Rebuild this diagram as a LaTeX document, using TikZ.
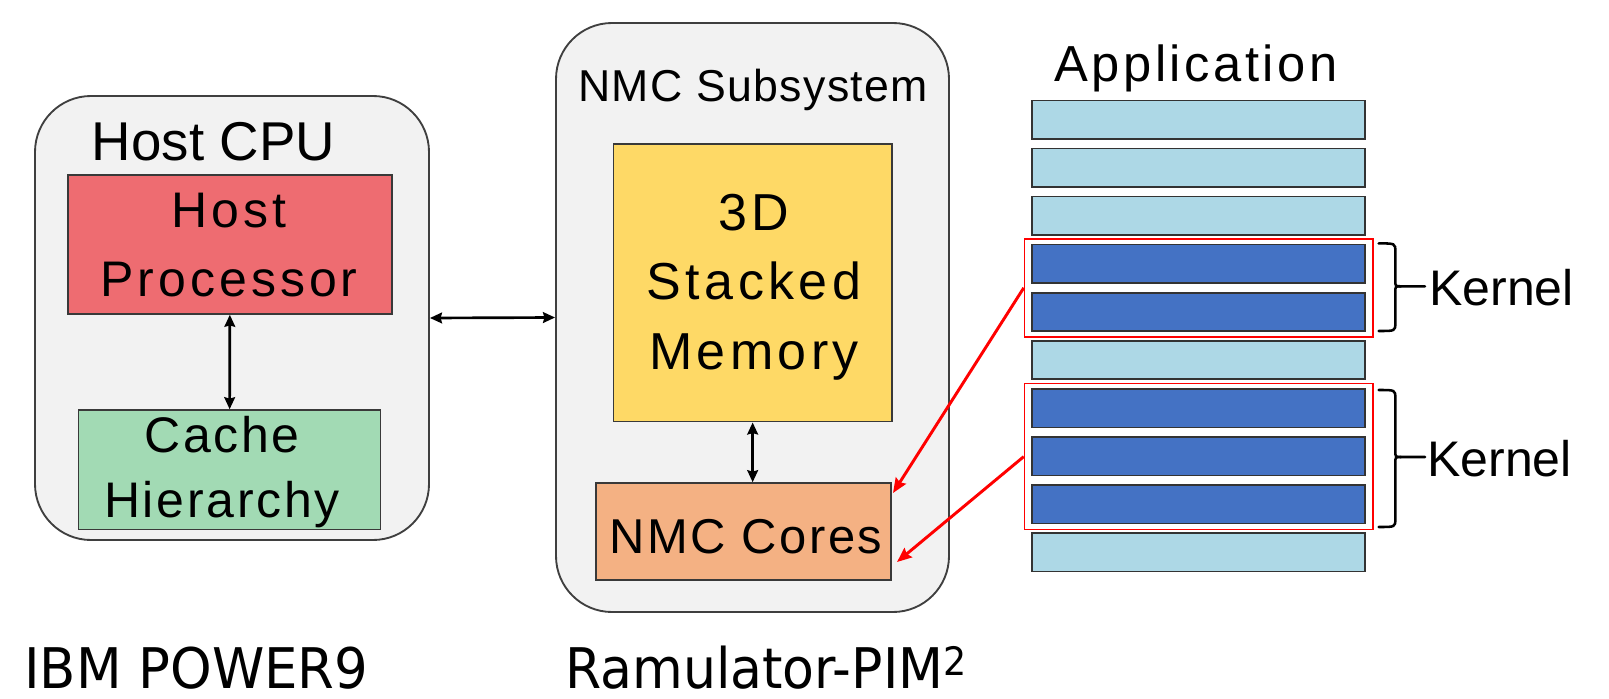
\documentclass[tikz,border=0pt]{standalone}
\usepackage{fontspec}
\usepackage{graphicx}
\setmainfont{Liberation Sans}
\newfontfamily\lsA{Liberation Sans}
\newfontfamily\lsB[LetterSpace=8]{Liberation Sans}
\newfontfamily\lsC[LetterSpace=5.5]{Liberation Sans}
\newfontfamily\lsD[LetterSpace=8.5]{Liberation Sans}
\newfontfamily\lsE[LetterSpace=5]{Liberation Sans}
\newfontfamily\lsF[LetterSpace=7]{Liberation Sans}
\newfontfamily\lsG[LetterSpace=3]{Liberation Sans}
\newfontfamily\capfont{DejaVu Sans}
\usetikzlibrary{fit,arrows.meta}

\definecolor{panelfill}{HTML}{F2F2F2}
\definecolor{panelline}{HTML}{3F3F3F}
\definecolor{hostred}{HTML}{EE6C71}
\definecolor{cachegreen}{HTML}{A2DAB4}
\definecolor{memyellow}{HTML}{FED966}
\definecolor{coreorange}{HTML}{F4B183}
\definecolor{barlight}{HTML}{ADD8E6}
\definecolor{bardark}{HTML}{4472C4}

\tikzset{
  panel/.style={draw=panelline, fill=panelfill, line width=1.4pt, rounded corners=42pt, inner sep=0pt},
  unitbox/.style={draw=panelline!90!black, line width=1.1pt, inner sep=0pt},
  boxline/.style={anchor=base, inner sep=0pt},
  bar/.style={draw=black!80, line width=1.2pt, inner sep=0pt},
  kernelbox/.style={draw=red, line width=1.1pt, inner sep=0pt},
  link/.style={line width=2pt, {Stealth[length=9pt,width=8pt,inset=1pt]}-{Stealth[length=9pt,width=8pt,inset=1pt]}},
  offload/.style={draw=red, line width=2.2pt, -{Stealth[length=11pt,width=9pt,inset=1.5pt]}},
  brace/.style={line width=1.9pt, line cap=round},
  caption/.style={anchor=base west, inner sep=0pt, font=\capfont\fontsize{42pt}{50pt}\selectfont},
  hpfont/.style={font=\lsB\fontsize{37.5pt}{45pt}\selectfont},
  cachefont/.style={font=\lsC\fontsize{37.5pt}{45pt}\selectfont},
  memfont/.style={font=\lsD\fontsize{39pt}{47pt}\selectfont},
  corefont/.style={font=\lsE\fontsize{36.7pt}{44pt}\selectfont},
}

\begin{document}
\begin{tikzpicture}[x=0.75pt, y=-0.75pt]
  \fill[white] (0,0) rectangle (1609,699);
  \useasboundingbox (0,0) rectangle (1609,699);

  % Host CPU panel
  \node (cpu) [panel, fit={(35,96) (429,540)}] {};
  \node (cputitle) [boxline, font=\lsA\fontsize{41pt}{48pt}\selectfont] at (213.5,160) {Host CPU};

  \node (hp) [unitbox, fill=hostred, fit={(68,175) (392,314)}] {};
  \node (hp1) [boxline, hpfont] at (229,227.3) {Host};
  \node (hp2) [boxline, hpfont] at (229,296.7) {Processor};

  \node (cache) [unitbox, fill=cachegreen, fit={(78.3,410) (380.7,529.3)}] {};
  \node (ca1) [boxline, cachefont] at (222,452.3) {Cache};
  \node (ca2) [boxline, cachefont] at (222,517.3) {Hierarchy};

  \draw[link] (hp) -- (cache);

  % NMC subsystem panel
  \node (nmc) [panel, fit={(556,23) (949,612)}] {};
  \node (nmctitle) [boxline, font=\lsG\fontsize{33.5pt}{40pt}\selectfont] at (753,101) {NMC Subsystem};

  \node (mem) [unitbox, fill=memyellow, fit={(613.3,144) (892,421.7)}] {};
  \node (me1) [boxline, memfont] at (754,230) {3D};
  \node (me2) [boxline, memfont] at (754,299.3) {Stacked};
  \node (me3) [boxline, memfont] at (754,369.3) {Memory};

  \node (cores) [unitbox, fill=coreorange, fit={(596,483) (891,580)}] {};
  \node (co1) [boxline, corefont] at (746,553) {NMC Cores};

  \draw[link] (mem.south) -- (mem.south |- cores.north);
  \draw[link] (cpu.east) -- (nmc.west);

  % Application with its kernels
  \node (apptitle) [boxline, font=\lsF\fontsize{38pt}{45pt}\selectfont] at (1196,81) {Application};
  \foreach \i/\c in {1/barlight,2/barlight,3/barlight,4/bardark,5/bardark,
                     6/barlight,7/bardark,8/bardark,9/bardark,10/barlight}{
    \node (b\i) [bar, fill=\c, fit={(1032,{100.3+48.1*(\i-1)}) (1365,{138.7+48.1*(\i-1)})}] {};
  }
  \node (k1) [kernelbox, fit={(1024.5,238.8) (1372.8,336.8)}] {};
  \node (k2) [kernelbox, fit={(1024.5,383.5) (1372.8,529.7)}] {};

  % braces naming the kernels
  \foreach \t/\m/\b in {243.4/286.3/331, 390/457/527}{
    \draw[brace] (1378.6,\t) .. controls (1395.3,\t) .. (1395.3,\t+8)
      -- (1395.3,\m-6) .. controls (1395.3,\m) .. (1401,\m) -- (1425,\m);
    \draw[brace] (1401,\m) .. controls (1395.3,\m) .. (1395.3,\m+6)
      -- (1395.3,\b-8) .. controls (1395.3,\b) .. (1378.6,\b);
  }
  \node (kl1) [anchor=base west, inner sep=0pt, font=\lsA\fontsize{37.5pt}{45pt}\selectfont] at (1429,305) {Kernel};
  \node (kl2) [anchor=base west, inner sep=0pt, font=\lsA\fontsize{37.5pt}{45pt}\selectfont] at (1427,476.5) {Kernel};

  % kernels offloaded to the NMC cores
  \coordinate (in1) at (893,493);
  \coordinate (in2) at (897,562);
  \draw[offload] (k1.west) -- (in1);
  \draw[offload] (k2.west) -- (in2);

  % platform captions
  \node (plat1) [caption] at (24,688) {\scalebox{0.945}[1]{IBM POWER9}};
  \node (plat2) [caption] at (565,688) {\scalebox{0.93}[1]{Ramulator-PIM\textsuperscript{2}}};
\end{tikzpicture}
\end{document}
